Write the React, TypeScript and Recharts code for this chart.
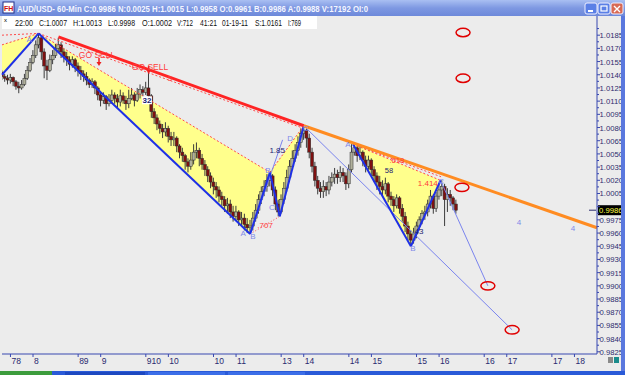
import React from 'react'
import {
  ComposedChart,
  Bar,
  XAxis,
  YAxis,
  ReferenceLine,
  ReferenceArea,
  ReferenceDot,
} from 'recharts'

// AUD/USD 60-min bars, prices in pips (1/10000). open of bar i = close of bar i-1
const OPEN_FIRST = 10143
const CLOSE = [
  10138, 10136, 10134, 10137, 10132, 10127, 10125, 10129, 10136, 10145,
  10154, 10162, 10174, 10182, 10166, 10150, 10145, 10157, 10162, 10170,
  10174, 10166, 10161, 10157, 10152, 10157, 10150, 10145, 10141, 10138,
  10134, 10129, 10132, 10125, 10117, 10111, 10115, 10107, 10111, 10117,
  10113, 10109, 10116, 10111, 10107, 10113, 10117, 10111, 10118, 10123,
  10120, 10125, 10116, 10098, 10091, 10084, 10079, 10075, 10079, 10070,
  10066, 10068, 10059, 10052, 10048, 10041, 10036, 10043, 10052, 10054,
  10045, 10038, 10032, 10025, 10018, 10013, 10009, 10002, 9998, 9991,
  9993, 9984, 9979, 9984, 9975, 9977, 9970, 9966, 9968, 9977,
  9986, 9998, 10007, 10013, 10020, 10025, 10009, 9993, 9984, 9998,
  10011, 10023, 10036, 10045, 10054, 10063, 10073, 10077, 10068, 10052,
  10036, 10020, 10011, 10007, 10013, 10009, 10018, 10023, 10027, 10023,
  10029, 10025, 10016, 10032, 10052, 10057, 10048, 10052, 10043, 10036,
  10043, 10032, 10025, 10018, 10013, 10009, 10016, 10002, 9998, 9991,
  10000, 9988, 9979, 9968, 9959, 9952, 9959, 9968, 9975, 9982,
  9984, 9993, 10002, 9988, 10002, 10009, 10013, 9998, 10004, 10000,
  9993, 9986,
]
const HIGH = [
  10145, 10141, 10140, 10141, 10138, 10134, 10132, 10134, 10141, 10150,
  10159, 10168, 10179, 10187, 10184, 10170, 10157, 10163, 10168, 10175,
  10182, 10177, 10170, 10166, 10161, 10161, 10159, 10154, 10150, 10145,
  10143, 10136, 10136, 10134, 10127, 10120, 10120, 10117, 10118, 10123,
  10120, 10118, 10123, 10120, 10116, 10123, 10125, 10120, 10125, 10129,
  10127, 10132, 10143, 10118, 10102, 10095, 10088, 10084, 10086, 10082,
  10075, 10075, 10070, 10061, 10057, 10050, 10045, 10052, 10061, 10063,
  10057, 10050, 10043, 10036, 10029, 10023, 10018, 10013, 10007, 10002,
  10000, 9998, 9991, 9991, 9986, 9984, 9982, 9977, 9975, 9984,
  9993, 10004, 10013, 10020, 10027, 10029, 10027, 10013, 9998, 10004,
  10018, 10032, 10043, 10054, 10061, 10070, 10079, 10082, 10079, 10073,
  10057, 10041, 10025, 10018, 10020, 10018, 10025, 10029, 10034, 10032,
  10036, 10034, 10029, 10038, 10061, 10063, 10059, 10059, 10054, 10048,
  10048, 10045, 10036, 10029, 10025, 10020, 10023, 10018, 10007, 10002,
  10004, 10002, 9993, 9984, 9973, 9963, 9966, 9973, 9979, 9986,
  9991, 9998, 10009, 10004, 10007, 10016, 10020, 10016, 10011, 10009,
  10002, 9998,
]
const LOW = [
  10134, 10132, 10129, 10130, 10127, 10123, 10119, 10123, 10127, 10134,
  10143, 10152, 10159, 10170, 10157, 10136, 10134, 10143, 10152, 10159,
  10166, 10159, 10154, 10150, 10145, 10148, 10143, 10138, 10134, 10132,
  10128, 10125, 10125, 10118, 10111, 10104, 10107, 10100, 10104, 10107,
  10107, 10102, 10104, 10107, 10100, 10102, 10111, 10104, 10109, 10113,
  10113, 10117, 10111, 10091, 10084, 10077, 10073, 10068, 10070, 10063,
  10059, 10059, 10052, 10045, 10041, 10032, 10029, 10032, 10038, 10045,
  10036, 10032, 10025, 10018, 10011, 10004, 10000, 9995, 9991, 9984,
  9982, 9977, 9973, 9975, 9968, 9968, 9963, 9960, 9959, 9963,
  9973, 9982, 9993, 10002, 10007, 10013, 10002, 9986, 9979, 9982,
  9993, 10007, 10018, 10032, 10041, 10048, 10057, 10066, 10057, 10045,
  10029, 10013, 10004, 10000, 10000, 10002, 10004, 10013, 10016, 10016,
  10018, 10018, 10009, 10011, 10029, 10048, 10041, 10043, 10036, 10029,
  10032, 10025, 10018, 10009, 10004, 10002, 10004, 9995, 9991, 9984,
  9988, 9982, 9973, 9961, 9952, 9945, 9948, 9954, 9963, 9970,
  9975, 9979, 9988, 9982, 9984, 9998, 10002, 9968, 9984, 9991,
  9986, 9982,
]

const X_TICKS = [3, 11, 27, 35, 51, 59, 75, 83, 99, 107, 123, 131, 147, 155, 171, 179, 195, 203]
const X_LABELS = ['78', '8', '89', '9', '910', '10', '10', '11', '13', '14', '14', '15', '15', '16', '16', '17', '17', '18']
const Y_TICKS = [
  0.9825, 0.984, 0.9855, 0.987, 0.9885, 0.99, 0.9915, 0.993, 0.9945, 0.996, 0.9975, 0.999,
  1.0005, 1.002, 1.0035, 1.005, 1.0065, 1.008, 1.0095, 1.011, 1.0125, 1.014, 1.0155, 1.017, 1.0185,
]
const LAST_PRICE = 0.9986

// drawing tools placed on the chart (x = bar index, y = price)
const YELLOW_TRIANGLES = [
  [[0, 1.0174], [13, 1.0187], [0, 1.014]],
  [[13, 1.0187], [88, 0.9959], [95, 1.0029]],
  [[95, 1.0029], [107, 1.0082], [98.5, 0.9979]],
  [[124.5, 1.0061], [145, 0.9945], [155.5, 1.002]],
]
const BLUE_LEGS = [
  [[0, 1.014], [13, 1.0187]],
  [[13, 1.0187], [88, 0.9959]],
  [[88, 0.9959], [95, 1.0029]],
  [[95, 1.0029], [98.5, 0.9979]],
  [[98.5, 0.9979], [107, 1.0082]],
  [[124.5, 1.0061], [145, 0.9945]],
  [[145, 0.9945], [155.5, 1.002]],
]
const THIN_BLUE = [
  [[107, 1.0082], [180.9, 0.985]],
  [[155.5, 1.002], [172.3, 0.99]],
  [[88, 0.9959], [99.5, 1.0066]],
]
const RED_TREND = [[20, 1.0183], [107, 1.0082]]
const ORANGE_TREND = [[107, 1.0082], [211, 0.9966]]
const DASHED_RED = [
  [[0, 1.0185], [13, 1.0187]],
  [[0, 1.0174], [13, 1.0187]],
  [[13, 1.0187], [107, 1.0079]],
  [[13, 1.0187], [95, 1.0029]],
  [[95, 1.0029], [107, 1.0082]],
  [[124.5, 1.0061], [155.5, 1.002]],
  [[124.5, 1.0061], [155.7, 1.0024]],
]
const DOTTED_RED = [
  [[88, 0.9959], [98.5, 0.9979]],
  [[145, 0.9945], [155.5, 1.002]],
]
const ELLIPSES = [[163.5, 1.0188], [163.5, 1.0136], [163.1, 1.0012], [172.3, 0.99], [180.9, 0.985]]
const ARROWS = [[34.4, 1.015], [52, 1.0141]]
const LABELS: [number, number, string, string, number][] = [
  [33.7, 1.0163, 'GO SELL', '#ff3b3b', 8.5],
  [52.5, 1.0149, 'GO SELL', '#ff3b3b', 8.5],
  [59.6, 1.0136, '5', '#ff3b3b', 8],
  [97.6, 1.0055, '1.85', '#1c2470', 8],
  [93.3, 0.9969, '.707', '#ff3b3b', 8],
  [9.6, 1.0181, 'A', '#7f89e8', 8],
  [85.5, 0.996, 'A', '#7f89e8', 8],
  [89, 0.9957, 'B', '#7f89e8', 8],
  [94.3, 1.0032, 'B', '#7f89e8', 8],
  [95.7, 0.999, 'C', '#7f89e8', 8],
  [102.2, 1.0068, 'D', '#7f89e8', 8],
  [107.8, 1.0079, 'C', '#7f89e8', 8],
  [122.7, 1.0061, 'A', '#7f89e8', 8],
  [140, 1.0043, '.618', '#ff3b3b', 7.5],
  [137.2, 1.0032, '58', '#1c2470', 7.5],
  [151, 1.0017, '1.414', '#ff3b3b', 8],
  [155.7, 1.0019, 'C', '#7f89e8', 8],
  [147.9, 0.9962, '43', '#1c2470', 8],
  [145.7, 0.9943, 'B', '#7f89e8', 8],
  [183.3, 0.9973, '4', '#7f89e8', 8],
  [202.5, 0.9966, '4', '#7f89e8', 8],
]
const BOXED_LABEL = [51.4, 1.0111, '32']

const TITLE = 'AUD/USD- 60-Min C:0.9986 N:0.0025 H:1.0015 L:0.9958 O:0.9961 B:0.9986 A:0.9988 V:17192 OI:0'
const INFO: [number, number, string][] = [
  [15, 18, '22:00'], [39, 28, 'C:1.0007'], [73, 29, 'H:1.0013'], [108, 27, 'L:0.9998'],
  [142, 30, 'O:1.0002'], [177, 16, 'V:712'], [200, 17, '41:21'], [222, 26, '01-19-11'],
  [255, 27, 'S:1.0161'], [288, 13, 'I:769'],
]

const FONT = "'Liberation Sans', Arial, sans-serif"

const candles = CLOSE.map((c, i) => ({
  h: i,
  o: (i === 0 ? OPEN_FIRST : CLOSE[i - 1]) / 10000,
  c: c / 10000,
  range: [LOW[i] / 10000, HIGH[i] / 10000],
}))

const yMinor = Y_TICKS.flatMap(v => [v, v + 0.00075])

const Candle = (props: any) => {
  const { x, y, width, height, payload } = props
  if (!payload) return null
  const [lo, hi] = payload.range
  const top = Math.min(y, y + height)
  const h = Math.abs(height)
  const cx = x + width / 2
  const py = (v: number) => top + ((hi - v) / (hi - lo)) * h
  const yo = py(payload.o)
  const yc = py(payload.c)
  const up = payload.c >= payload.o
  return (
    <g>
      <line x1={cx} x2={cx} y1={top} y2={top + h} stroke="#3c3c3c" strokeWidth={1} />
      <rect
        x={cx - 1.5}
        y={Math.min(yo, yc)}
        width={3}
        height={Math.max(Math.abs(yo - yc), 1)}
        fill={up ? '#b0b09c' : '#7e1010'}
        stroke="#2b2b2b"
        strokeWidth={0.5}
      />
    </g>
  )
}

const triangleShape = (pts: number[][]) => (p: any) => {
  const xs = pts.map(q => q[0])
  const ys = pts.map(q => q[1])
  const x0 = Math.min(...xs), x1 = Math.max(...xs)
  const y0 = Math.min(...ys), y1 = Math.max(...ys)
  const d = pts
    .map(q => {
      const px = p.x + ((q[0] - x0) / (x1 - x0)) * p.width
      const py = p.y + ((y1 - q[1]) / (y1 - y0)) * p.height
      return `${px},${py}`
    })
    .join(' ')
  return <polygon points={d} fill="#ffff8c" stroke="none" />
}

const XTick = ({ x, y, payload }: any) => {
  const label = X_LABELS[X_TICKS.indexOf(payload.value)]
  return (
    <g>
      <line x1={x} x2={x} y1={y} y2={y + 3} stroke="#3848b0" />
      <text x={x + 1} y={y + 10} fontSize={8.5} fill="#2a2a70" fontFamily={FONT}>{label}</text>
    </g>
  )
}

const YTick = ({ x, y, payload }: any) => {
  const major = Y_TICKS.some(v => Math.abs(v - payload.value) < 1e-7)
  // the last-price box covers the label nearest to it
  const hidden = Math.abs(payload.value - LAST_PRICE) < 0.0006
  return (
    <g>
      <line x1={x} x2={x + (major ? 3 : 2)} y1={y} y2={y} stroke="#3848b0" />
      {major && !hidden && (
        <text x={x + 2.5} y={y + 3} fontSize={7.7} fill="#2c2c6e" fontFamily={FONT}>
          {payload.value.toFixed(4)}
        </text>
      )}
    </g>
  )
}

export default function App() {
  return (
    <div style={{ position: 'absolute', left: 0, top: 0, width: 625, height: 375, overflow: 'hidden', background: '#ececec', fontFamily: FONT }}>
      {/* window title bar */}
      <svg width={625} height={16} style={{ position: 'absolute', left: 0, top: 0 }}>
        <defs>
          <linearGradient id="tb" x1="0" y1="0" x2="0" y2="1">
            <stop offset="0" stopColor="#a9bff2" />
            <stop offset="0.5" stopColor="#7e98e2" />
            <stop offset="1" stopColor="#6d89da" />
          </linearGradient>
        </defs>
        <rect width={625} height={16} fill="url(#tb)" />
        <rect x={3} y={2} width={11} height={11} fill="#fff" stroke="#22308a" strokeWidth={1} />
        <text x={4} y={11} fontSize={7} fontWeight="bold" fill="#d01010" fontFamily={FONT}>FH</text>
        <text x={17} y={11.5} fontSize={9} fontWeight="bold" fill="#f4f6ff" fontFamily={FONT} textLength={351} lengthAdjust="spacingAndGlyphs">{TITLE}</text>
        <rect x={585} y={3} width={12} height={11} rx={2} fill="#5b80e6" stroke="#eef" />
        <rect x={588} y={10} width={5} height={2} fill="#fff" />
        <rect x={598} y={3} width={12} height={11} rx={2} fill="#5b80e6" stroke="#eef" />
        <rect x={601} y={6} width={6} height={5} fill="none" stroke="#fff" strokeWidth={1.2} />
        <rect x={611} y={3} width={12} height={11} rx={2} fill="#d86a55" stroke="#eef" />
        <path d="M614 6 L620 12 M620 6 L614 12" stroke="#fff" strokeWidth={1.4} />
      </svg>

      <div style={{ position: 'absolute', left: 0, top: 16 }}>
        <ComposedChart width={625} height={355} data={candles} margin={{ top: 0, right: 0, bottom: 0, left: 2 }}>
          <XAxis
            dataKey="h"
            type="number"
            domain={[0, 211]}
            ticks={X_TICKS}
            interval={0}
            tick={<XTick />}
            tickSize={0}
            tickMargin={0}
            tickLine={false}
            height={17}
            axisLine={{ stroke: '#3848b0' }}
            allowDataOverflow
          />
          <YAxis
            type="number"
            orientation="right"
            width={28}
            domain={[0.98225, 1.02068]}
            ticks={yMinor}
            interval={0}
            tick={<YTick />}
            tickSize={0}
            tickMargin={0}
            tickLine={false}
            axisLine={{ stroke: '#3848b0' }}
            allowDataOverflow
          />
          {YELLOW_TRIANGLES.map((t, i) => (
            <ReferenceArea
              key={'t' + i}
              x1={Math.min(...t.map(q => q[0]))}
              x2={Math.max(...t.map(q => q[0]))}
              y1={Math.min(...t.map(q => q[1]))}
              y2={Math.max(...t.map(q => q[1]))}
              ifOverflow="visible"
              shape={triangleShape(t)}
            />
          ))}
          <Bar dataKey="range" barSize={3} isAnimationActive={false} shape={(p: any) => <Candle {...p} />} />
          {DASHED_RED.map((s, i) => (
            <ReferenceLine key={'d' + i} segment={[{ x: s[0][0], y: s[0][1] }, { x: s[1][0], y: s[1][1] }]} stroke="#ff4a4a" strokeWidth={1} strokeDasharray="2 2" ifOverflow="visible" />
          ))}
          {DOTTED_RED.map((s, i) => (
            <ReferenceLine key={'o' + i} segment={[{ x: s[0][0], y: s[0][1] }, { x: s[1][0], y: s[1][1] }]} stroke="#ff4a4a" strokeWidth={1} strokeDasharray="1 2" ifOverflow="visible" />
          ))}
          {THIN_BLUE.map((s, i) => (
            <ReferenceLine key={'b' + i} segment={[{ x: s[0][0], y: s[0][1] }, { x: s[1][0], y: s[1][1] }]} stroke="#7a84ee" strokeWidth={1} ifOverflow="visible" />
          ))}
          {BLUE_LEGS.map((s, i) => (
            <ReferenceLine key={'l' + i} segment={[{ x: s[0][0], y: s[0][1] }, { x: s[1][0], y: s[1][1] }]} stroke="#1e30e6" strokeWidth={2} ifOverflow="visible" />
          ))}
          <ReferenceLine segment={[{ x: RED_TREND[0][0], y: RED_TREND[0][1] }, { x: RED_TREND[1][0], y: RED_TREND[1][1] }]} stroke="#ff2424" strokeWidth={3} ifOverflow="visible" />
          <ReferenceLine segment={[{ x: ORANGE_TREND[0][0], y: ORANGE_TREND[0][1] }, { x: ORANGE_TREND[1][0], y: ORANGE_TREND[1][1] }]} stroke="#ff8c22" strokeWidth={3} ifOverflow="visible" />
          {ELLIPSES.map((e, i) => (
            <ReferenceDot
              key={'e' + i}
              x={e[0]}
              y={e[1]}
              r={0}
              ifOverflow="visible"
              shape={(p: any) => <ellipse cx={p.cx} cy={p.cy} rx={7} ry={4.2} fill="none" stroke="#e00000" strokeWidth={1.5} />}
            />
          ))}
          {ARROWS.map((a, i) => (
            <ReferenceDot
              key={'a' + i}
              x={a[0]}
              y={a[1]}
              r={0}
              ifOverflow="visible"
              shape={(p: any) => (
                <g>
                  <line x1={p.cx} x2={p.cx} y1={p.cy - 8} y2={p.cy - 3} stroke="#ee2020" strokeWidth={1.5} />
                  <polygon points={`${p.cx - 2.5},${p.cy - 4} ${p.cx + 2.5},${p.cy - 4} ${p.cx},${p.cy}`} fill="#ee2020" />
                </g>
              )}
            />
          ))}
          {LABELS.map((l, i) => (
            <ReferenceDot
              key={'x' + i}
              x={l[0]}
              y={l[1]}
              r={0}
              ifOverflow="visible"
              shape={(p: any) => (
                <text x={p.cx} y={p.cy + 3} textAnchor="middle" fontSize={l[4]} fill={l[3]} fontFamily={FONT}>{l[2]}</text>
              )}
            />
          ))}
          <ReferenceDot
            x={BOXED_LABEL[0] as number}
            y={BOXED_LABEL[1] as number}
            r={0}
            ifOverflow="visible"
            shape={(p: any) => (
              <g>
                <rect x={p.cx - 5} y={p.cy - 4} width={10} height={8} fill="#fff" />
                <text x={p.cx} y={p.cy + 3} textAnchor="middle" fontSize={8} fontWeight="bold" fill="#1c2470" fontFamily={FONT}>{BOXED_LABEL[2]}</text>
              </g>
            )}
          />
          <ReferenceDot
            x={211}
            y={LAST_PRICE}
            r={0}
            ifOverflow="visible"
            shape={(p: any) => (
              <g>
                <line x1={p.cx - 8} x2={p.cx - 1} y1={p.cy} y2={p.cy} stroke="#2c2c6e" />
                <rect x={p.cx + 1} y={p.cy - 5} width={23} height={10} fill="#000" />
                <text x={p.cx + 2} y={p.cy + 3} fontSize={7.7} fill="#ffff44" fontFamily={FONT}>{LAST_PRICE.toFixed(4)}</text>
              </g>
            )}
          />
        </ComposedChart>
      </div>

      {/* cursor data line */}
      <svg width={320} height={13} style={{ position: 'absolute', left: 0, top: 16 }}>
        <rect x={2} y={0} width={315} height={13} fill="#fff" />
        <text x={4} y={6} fontSize={6} fill="#000" fontFamily={FONT}>x</text>
        {INFO.map(([x, w, t]) => (
          <text key={t} x={x} y={10} fontSize={8.5} fill="#111" fontFamily={FONT} textLength={w} lengthAdjust="spacingAndGlyphs">{t}</text>
        ))}
      </svg>

      {/* window frame, corner boxes, taskbar */}
      <div style={{ position: 'absolute', left: 621, top: 16, width: 4, height: 355, background: '#5a78de' }} />
      <div style={{ position: 'absolute', left: 608, top: 357, width: 5, height: 6, background: '#8a8a8a' }} />
      <div style={{ position: 'absolute', left: 614, top: 357, width: 5, height: 6, background: '#1a8c8c' }} />
      <div style={{ position: 'absolute', left: 0, top: 371, width: 625, height: 4, background: '#2a5ad8' }} />
      <div style={{ position: 'absolute', left: 0, top: 371, width: 52, height: 4, background: '#3c9c3c' }} />
      <div style={{ position: 'absolute', left: 65, top: 372, width: 80, height: 3, background: '#1d48c0' }} />
      <div style={{ position: 'absolute', left: 148, top: 372, width: 77, height: 3, background: '#3c6ee8' }} />
      <div style={{ position: 'absolute', left: 228, top: 372, width: 77, height: 3, background: '#3c6ee8' }} />
    </div>
  )
}
